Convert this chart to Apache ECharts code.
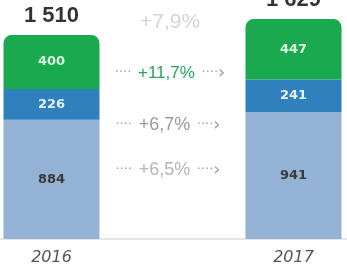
<!DOCTYPE html>
<html><head><meta charset="utf-8">
<script src="https://cdn.jsdelivr.net/npm/echarts@6/dist/echarts.min.js"></script>
<style>html,body{margin:0;padding:0;background:#fff}#c{width:347px;height:271px}</style>
</head><body><div id="c"></div>
<script>
const categories = ['2016', '', '2017'];
const baseValues = [884, null, 941];
const midValues = [226, null, 241];
const topValues = [400, null, 447];
const growthLabels = ['+7,9%', '+11,7%', '+6,7%', '+6,5%'];

const totals = categories.map((c, i) => baseValues[i] == null ? null : baseValues[i] + midValues[i] + topValues[i]);
const fmtTotal = v => String(v).replace(/\B(?=(\d{3})+(?!\d))/g, ' ');

const chart = echarts.init(document.getElementById('c'));
const innerFont = 'DejaVu Sans';
const sans = '"Liberation Sans", Arial, sans-serif';

function arrowText(txt, color, size) {
  return {
    type: 'text',
    style: {
      text: '{d|····}  {t|' + txt + '}  {d|····}{a|›}',
      rich: {
        d: { fill: '#a0a0a0', fontSize: 13, fontFamily: innerFont },
        a: { fill: '#a0a0a0', fontSize: 18, fontFamily: innerFont },
        t: { fill: color, fontSize: size, fontFamily: sans }
      },
      align: 'center', verticalAlign: 'middle'
    }
  };
}

const g1 = arrowText(growthLabels[1], '#22a85a', 17); g1.x = 170; g1.y = 73;
const g2 = arrowText(growthLabels[2], '#9a9a9a', 18); g2.x = 168; g2.y = 125;
const g3 = arrowText(growthLabels[3], '#b5b5b5', 18); g3.x = 168; g3.y = 170;

chart.setOption({
  animation: false,
  grid: { left: -9, width: 363, top: 0, bottom: 32, outerBoundsMode: 'none', containLabel: false },
  xAxis: {
    type: 'category', data: categories,
    axisLine: { lineStyle: { color: '#e6e6e6', width: 2 } },
    axisTick: { show: false },
    axisLabel: { fontFamily: innerFont, fontStyle: 'italic', fontSize: 16, color: '#555', margin: 11, interval: 0 }
  },
  yAxis: { type: 'value', min: 0, max: 1770, show: false, splitLine: { show: false } },
  graphic: [
    { type: 'text', x: 170, y: 22, style: { text: growthLabels[0], fill: '#d4d4d4', fontSize: 21, fontFamily: sans, align: 'center', verticalAlign: 'middle' } },
    g1, g2, g3
  ],
  series: [
    {
      type: 'bar', stack: 's', data: baseValues, barWidth: 96,
      itemStyle: { color: '#93b2d4' },
      label: { show: true, position: 'inside', color: '#3a3a3a', fontSize: 13, fontWeight: 'bold', fontFamily: innerFont }
    },
    {
      type: 'bar', stack: 's', data: midValues,
      itemStyle: { color: '#2f80bd' },
      label: { show: true, position: 'inside', color: '#e4f1ff', fontSize: 13, fontWeight: 'bold', fontFamily: innerFont }
    },
    {
      type: 'bar', stack: 's', data: topValues,
      itemStyle: { color: '#1aa94e', borderRadius: [8, 8, 0, 0] },
      label: { show: true, position: 'inside', color: '#dcf7dc', fontSize: 13, fontWeight: 'bold', fontFamily: innerFont }
    },
    {
      type: 'scatter', data: totals, symbolSize: 0,
      emphasis: { disabled: true },
      label: {
        show: true, position: 'top', distance: 8,
        formatter: p => fmtTotal(p.value),
        color: '#000', fontSize: 22, fontWeight: 'bold', fontFamily: sans
      }
    }
  ]
});
</script></body></html>
